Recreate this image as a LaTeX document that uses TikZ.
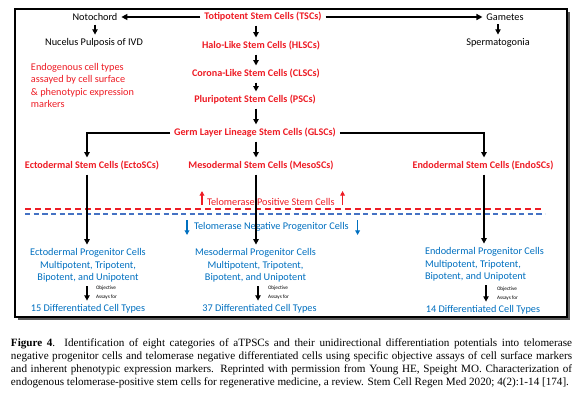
\documentclass[tikz,border=0pt]{standalone}
\usepackage{fontspec}
\setmainfont{Carlito}
\newfontfamily\capfont{Liberation Serif}
\usetikzlibrary{arrows.meta}
\definecolor{sred}{RGB}{238,28,37}
\definecolor{pblue}{RGB}{0,112,192}
\definecolor{dblue}{RGB}{68,114,196}
\begin{document}
\begin{tikzpicture}[x=0.75pt,y=-0.75pt,
  every node/.style={inner sep=1pt,outer sep=2pt},
  stem/.style={text=sred,font=\fontsize{7.6}{9}\selectfont\bfseries},
  plain/.style={text=black,font=\fontsize{7.7}{9}\selectfont},
  redtxt/.style={text=sred,font=\fontsize{7.7}{9.2}\selectfont},
  prog/.style={text=pblue,font=\fontsize{7.7}{9.4}\selectfont},
  tiny/.style={text=black,font=\fontsize{3.9}{6.6}\selectfont,align=left,anchor=west},
  arr/.style={line width=1.1pt,-{Triangle[length=4pt,width=4pt]}},
  harr/.style={line width=1.4pt,-{Triangle[length=4.5pt,width=4.5pt]}},
  sarr/.style={line width=1.2pt,-{Triangle[length=4pt,width=4pt]}},
  redup/.style={draw=sred,line width=0.9pt,-{Triangle[length=3.5pt,width=3.5pt]}},
  bluedn/.style={draw=pblue,line width=0.9pt,-{Triangle[length=3.5pt,width=3.5pt]}},
  reddash/.style={draw=sred,line width=1.1pt,dash pattern=on 4.5pt off 3pt},
  bluedash/.style={draw=dblue,line width=0.8pt,dash pattern=on 4pt off 2.5pt}
]
\useasboundingbox (0,0) rectangle (585,393);
\fill[white] (0,0) rectangle (585,393);
% framed panel with shadow
\fill[black!65] (17.5,11.5) rectangle (569.5,319.5);
\filldraw[fill=white,draw=black,line width=0.9pt] (15,9) rectangle (567,317);

% column coordinates
\coordinate (cE) at (87,0);
\coordinate (cM) at (256,0);
\coordinate (cN) at (484,0);
\coordinate (sM) at (258,0);
\coordinate (sN) at (486,0);

% top row
\node[plain] (noto) at (95,17) {Notochord};
\node[stem] (tsc) at (263,17) {Totipotent Stem Cells (TSCs)};
\node[plain] (gam) at (505,17) {Gametes};
\node[plain] (nuc) at (94,43) {Nucelus Pulposis of IVD};
\node[plain] (sperm) at (498,43) {Spermatogonia};

\node[stem] (hlsc) at (261,46) {Halo-Like Stem Cells (HLSCs)};
\node[stem] (clsc) at (256,74) {Corona-Like Stem Cells (CLSCs)};
\node[stem] (psc) at (255,100) {Pluripotent Stem Cells (PSCs)};
\node[stem] (glsc) at (255,133) {Germ Layer Lineage Stem Cells (GLSCs)};

\node[redtxt,align=left,anchor=west] (endog) at (27,85.5)
  {Endogenous cell types\\assayed by cell surface\\\& phenotypic expression\\markers};

\node[stem] (ecto) at (92,166) {Ectodermal Stem Cells (EctoSCs)};
\node[stem] (meso) at (261,166) {Mesodermal Stem Cells (MesoSCs)};
\node[stem] (endo) at (483,166) {Endodermal Stem Cells (EndoSCs)};

% telomerase boundary
\node[redtxt,anchor=west] (tpos) at (203,202) {Telomerase Positive Stem Cells};
\node[prog,anchor=west] (tneg) at (190,227) {Telomerase Negative Progenitor Cells};
\coordinate (rdL) at (25,209);
\coordinate (rdR) at (543,209);
\coordinate (bdL) at (25,214);
\coordinate (bdR) at (545,214);
\draw[reddash] (rdL) -- (rdR);
\draw[bluedash] (bdL) -- (bdR);
\draw[redup] ([shift={(-1,3)}]tpos.west) -- ([shift={(-1,-11)}]tpos.west);
\draw[redup] ([shift={(4,3)}]tpos.east) -- ([shift={(4,-11)}]tpos.east);
\draw[bluedn] ([shift={(-3,-7)}]tneg.west) -- ([shift={(-3,8)}]tneg.west);
\draw[bluedn] ([shift={(5,-7)}]tneg.east) -- ([shift={(5,8)}]tneg.east);

% progenitor cells
\node[prog,align=center] (eprog) at (88,265.5)
  {Ectodermal Progenitor Cells\\Multipotent, Tripotent,\\Bipotent, and Unipotent};
\node[prog,align=center] (mprog) at (255.5,265.5)
  {Mesodermal Progenitor Cells\\Multipotent, Tripotent,\\Bipotent, and Unipotent};
\node[prog,align=left,anchor=west] (nprog) at (421,264.5)
  {Endodermal Progenitor Cells\\Multipotent, Tripotent,\\Bipotent, and Unipotent};

\node[prog] (d15) at (88,309) {15 Differentiated Cell Types};
\node[prog] (d37) at (259.5,309) {37 Differentiated Cell Types};
\node[prog] (d14) at (483,310) {14 Differentiated Cell Types};

\node[tiny] (oE) at (92,292.5) {Objective\\Assays for};
\node[tiny] (oM) at (264,292.5) {Objective\\Assays for};
\node[tiny] (oN) at (493,294) {Objective\\Assays for};

% connectors
\draw[harr] (tsc.west) -- (noto.east);
\draw[harr] (tsc.east) -- (gam.west);
\draw[arr] (noto) -- (noto |- nuc.north);
\draw[arr] (gam.south -| sperm) -- (sperm.north);
\draw[arr] (tsc.south -| cM) -- (hlsc.north -| cM);
\draw[arr] (hlsc.south -| cM) -- (clsc.north -| cM);
\draw[arr] (clsc.south -| cM) -- (psc.north -| cM);
\draw[arr] (psc.south -| cM) -- (glsc.north -| cM);
\draw[arr] (glsc.west) -| (ecto.north -| cE);
\draw[arr] (glsc.east) -| (endo.north -| cN);
\draw[arr] (glsc.south -| cM) -- (meso.north -| cM);
\draw[arr] (ecto.south -| cE) -- (eprog.north -| cE);
\draw[arr] (meso.south -| cM) -- (mprog.north -| cM);
\draw[arr] (endo.south -| cN) -- (nprog.north -| cN);
\draw[sarr] (eprog.south -| cE) -- (d15.north -| cE);
\draw[sarr] (mprog.south -| sM) -- (d37.north -| sM);
\draw[sarr] (nprog.south -| sN) -- (d14.north -| sN);

% caption
\node[anchor=north west,inner sep=0pt,outer sep=0pt,text width=420.75pt,align=justify,
  font=\capfont\fontsize{8.35}{9.6}\selectfont] (cap) at (11,339)
  {\tolerance=10000\hyphenpenalty=10000\textbf{Figure 4}. Identification of eight categories of aTPSCs and their unidirectional differentiation potentials into telomerase\linebreak negative progenitor cells and telomerase negative differentiated cells using specific objective assays of cell surface markers\linebreak and inherent phenotypic expression markers. Reprinted with permission from Young HE, Speight MO. Characterization of\linebreak endogenous telomerase-positive stem cells for regenerative medicine, a review. Stem Cell Regen Med 2020; 4(2):1-14 [174].};
\end{tikzpicture}
\end{document}
